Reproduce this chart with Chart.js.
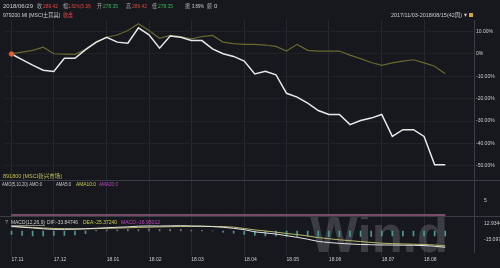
<!DOCTYPE html>
<html>
<head>
<meta charset="utf-8">
<script src="https://cdn.jsdelivr.net/npm/chart.js@4.4.1/dist/chart.umd.min.js"></script>
<style>
  html, body { margin: 0; padding: 0; background: #16181d; }
  #wrap { width: 500px; height: 268px; }
</style>
</head>
<body>
<div id="wrap"><canvas id="trend"></canvas></div>
<script>
// weekly closes, 2017/11/03 - 2018/08/15 (42 weeks)
const weeks = [
  '2017/11/03', '2017/11/10', '2017/11/17', '2017/11/24',
  '2017/12/01', '2017/12/08', '2017/12/15', '2017/12/22', '2017/12/29',
  '2018/01/05', '2018/01/12', '2018/01/19', '2018/01/26',
  '2018/02/02', '2018/02/09', '2018/02/16', '2018/02/23',
  '2018/03/02', '2018/03/09', '2018/03/16', '2018/03/23', '2018/03/30',
  '2018/04/06', '2018/04/13', '2018/04/20', '2018/04/27',
  '2018/05/04', '2018/05/11', '2018/05/18', '2018/05/25',
  '2018/06/01', '2018/06/08', '2018/06/15', '2018/06/22', '2018/06/29',
  '2018/07/06', '2018/07/13', '2018/07/20', '2018/07/27',
  '2018/08/03', '2018/08/10', '2018/08/15'
];

// % change since first week
const turkey = [
  0, -2.5, -5, -7.3, -7.8, -1.9, -1.9, 1.9, 5.3, 7.5,
  5.3, 4.8, 11.7, 8.6, 2.6, 8.0, 7.5, 6.0, 6.0, 2.3,
  0.1, -1.1, -3.2, -8.9, -7.7, -9.3, -17.6, -19.3, -22.0, -25.3,
  -27.1, -27.1, -31.6, -29.8, -28.7, -27.1, -36.9, -33.9, -33.9, -36.9,
  -49.6, -49.6
];
const emerging = [
  0, 0.8, 1.6, 3.0, 0.1, -0.1, -0.2, 2.0, 5.0, 7.5,
  8.5, 10.5, 13.5, 10.5, 7.0, 8.3, 7.8, 6.8, 7.8, 8.3,
  5.3, 4.6, 4.3, 4.3, 4.0, 3.4, 1.3, 4.3, 1.6, 1.3,
  1.3, 1.3, -0.5, -2.1, -3.8, -5.1, -4.0, -3.2, -2.6, -4.0,
  -5.5, -8.9
];

// AMO panel (all zero)
const ama = [
  0, 0, 0, 0, 0, 0, 0, 0, 0, 0, 0, 0, 0, 0, 0, 0, 0, 0, 0, 0, 0,
  0, 0, 0, 0, 0, 0, 0, 0, 0, 0, 0, 0, 0, 0, 0, 0, 0, 0, 0, 0, 0
];

// MACD panel
const dif = [
  8.5, 7, 5.5, 4, 3, 3, 3.3, 4, 5, 6,
  6.8, 7.5, 8.8, 9.2, 9.0, 9.4, 9.6, 9.2, 8.8, 8.0,
  6.8, 4.8, 2.5, -1.5, -3.5, -5.5, -8.5, -11.5, -15, -19,
  -21, -22.5, -23.6, -24.5, -25, -25.4, -25.6, -25.8, -26, -26.5,
  -27.8, -29.6
];
const dea = [
  8.0, 7.5, 6.5, 5.5, 4.6, 4.2, 4.0, 4.0, 4.3, 4.8,
  5.3, 5.8, 6.5, 7.0, 7.4, 7.8, 8.2, 8.4, 8.5, 8.4,
  8.0, 7.0, 4.5, 2.0, 0.0, -2.0, -4.5, -6.5, -9, -12,
  -14, -16, -17.6, -19.2, -20.8, -22.2, -23.0, -23.6, -24.0, -24.6,
  -25.5, -27.0
];
const macdHist = [
  -6, -8, -9, -9, -8, -8, -7, -5, 1, 2,
  2, 3, 3, 4, 3, 3, 3, 1, 1, 0.5,
  -2, -4, -6, -8, -9, -9, -10, -10, -10, -10,
  -10, -10, -10, -10, -10, -9, -9, -9, -9, -9,
  -9, -9
];

const pctTicks = [10, 0, -10, -20, -30, -40, -50];
const amoTicks = [5];
const macdTicks = [12.93449, -15.09714];

const FONT = '"Liberation Sans", "Noto Sans CJK SC", sans-serif';
const RED = '#e2463f';
const GREEN = '#39b85a';
const TXT = '#cdcdcd';
const GREY = '#a8a8a8';

// header / panel captions: [text, x, color, maxWidth]
const headRow1 = [
  ['2018/06/29', 3, TXT, 31], ['收', 37, GREY, 5], ['289.42', 43, RED, 15],
  ['幅', 63, GREY, 5], ['1.82%(5.18)', 68, RED, 23], ['开', 97, GREY, 5],
  ['278.35', 103, GREEN, 15], ['高', 126, GREY, 5], ['289.42', 132, RED, 15],
  ['低', 152, GREY, 5], ['278.35', 158, GREEN, 15], ['振', 185, GREY, 5],
  ['3.89%', 192, TXT, 12], ['额', 207, GREY, 5], ['0', 214, TXT, 4]
];
const headRow2 = [['979200.MI [MSCI土耳其]', 3, TXT, 57], ['收盘', 63, RED, 10]];
const rangeRow = [['2017/11/03-2018/08/15(42周)', 391, TXT, 71], ['▼', 463, TXT, 5]];
const emRow = [['891800 [MSCI新兴市场]', 3, '#c9bf4c', 59]];
const amoRow = [
  ['AMO(5,10,20) AMO:0', 2, TXT, 40], ['AMA5:0', 56, TXT, 15],
  ['AMA10:0', 76, '#d2d048', 20], ['AMA20:0', 99, '#c844c8', 19]
];
const macdRow = [
  ['?', 5, GREY, 4], ['MACD(12,26,9)', 11, TXT, 34], ['DIF:-33.84746', 47, TXT, 31],
  ['DEA:-25.37240', 83, '#d2d048', 34], ['MACD:-16.95012', 121, '#c844c8', 39]
];

const monthStarts = [];
weeks.forEach((d, i) => {
  if (i === 0 || d.slice(5, 7) !== weeks[i - 1].slice(5, 7)) monthStarts.push(i);
});
const monthLabel = i => weeks[i].slice(2, 4) + '.' + weeks[i].slice(5, 7);
const pts = arr => arr.map((v, i) => ({ x: i, y: v }));

function writeRow(ctx, row, y, size) {
  ctx.font = `${size}px ${FONT}`;
  ctx.textBaseline = 'middle';
  ctx.textAlign = 'left';
  row.forEach(([t, x, c, w]) => {
    ctx.fillStyle = c;
    ctx.fillText(t, x, y, w);
  });
}

const decor = {
  id: 'decor',
  beforeDatasetsDraw(chart) {
    const ctx = chart.ctx;
    ctx.save();
    ctx.font = `bold 52px ${FONT}`;
    ctx.fillStyle = 'rgba(125,127,137,0.36)';
    ctx.textBaseline = 'alphabetic';
    ctx.fillText('Win.d', 310, 252, 138);
    ctx.restore();
  },
  afterDraw(chart) {
    const ctx = chart.ctx;
    const s = chart.scales;
    ctx.save();
    // panel separators
    ctx.strokeStyle = '#3a3d45';
    ctx.lineWidth = 1;
    [s.yAmo.top, s.yMacd.top].forEach(y => {
      ctx.beginPath();
      ctx.moveTo(0, Math.round(y) + 0.5);
      ctx.lineTo(500, Math.round(y) + 0.5);
      ctx.stroke();
    });
    writeRow(ctx, headRow1, 6, 6);
    writeRow(ctx, headRow2, 15, 5.5);
    writeRow(ctx, rangeRow, 15, 5.5);
    ctx.fillStyle = '#d8a531';
    ctx.fillRect(469, 13, 4, 4);
    writeRow(ctx, emRow, 176, 5.5);
    writeRow(ctx, amoRow, 184, 5.5);
    writeRow(ctx, macdRow, 222, 5.5);
    // underline under MACD(12,26,9)
    ctx.strokeStyle = TXT;
    ctx.lineWidth = 0.6;
    ctx.beginPath();
    ctx.moveTo(11, 225.5);
    ctx.lineTo(45, 225.5);
    ctx.stroke();
    ctx.restore();
  }
};

const tickFont = { family: FONT, size: 5 };

new Chart(document.getElementById('trend'), {
  type: 'line',
  data: {
    datasets: [
      {
        data: pts(turkey), yAxisID: 'y', borderColor: '#e8e8e8', borderWidth: 1.5,
        pointRadius: ctx => ctx.dataIndex === 0 ? 2.5 : 0,
        pointBackgroundColor: '#e0603a', pointBorderColor: '#c84a2a', pointBorderWidth: 0.5
      },
      { data: pts(emerging), yAxisID: 'y', borderColor: '#69682f', borderWidth: 1.2, pointRadius: 0 },
      { data: pts(ama), yAxisID: 'yAmo', borderColor: '#7a3c7c', borderWidth: 1.5, pointRadius: 0 },
      { data: pts(ama), yAxisID: 'yAmo', borderColor: '#d2d048', borderWidth: 1, pointRadius: 0 },
      { data: pts(dif), yAxisID: 'yMacd', borderColor: '#e4e4e4', borderWidth: 1, pointRadius: 0 },
      { data: pts(dea), yAxisID: 'yMacd', borderColor: '#b8b86a', borderWidth: 1, pointRadius: 0 },
      {
        type: 'bar', data: pts(macdHist), yAxisID: 'yMacd', barThickness: 1,
        backgroundColor: ctx => (ctx.raw && ctx.raw.y < 0) ? '#4c9a98' : '#6f7178'
      }
    ]
  },
  options: {
    responsive: true,
    maintainAspectRatio: false,
    animation: false,
    layout: { padding: { top: 20, left: 1, right: 0, bottom: 0 } },
    plugins: { legend: { display: false }, tooltip: { enabled: false } },
    scales: {
      x: {
        type: 'linear', min: -0.66, max: 43.72, offset: false,
        afterBuildTicks: sc => { sc.ticks = monthStarts.map(v => ({ value: v })); },
        afterFit: sc => { sc.height = 16; },
        ticks: {
          autoSkip: false, maxRotation: 0, align: 'start', padding: 1,
          color: TXT, font: tickFont, callback: v => monthLabel(v)
        },
        grid: { color: '#25282f', offset: false, tickLength: 4 },
        border: { display: false }
      },
      y: {
        position: 'right', stack: 'panels', stackWeight: 160,
        min: -56.4, max: 15.2,
        afterBuildTicks: sc => { sc.ticks = pctTicks.map(v => ({ value: v })); },
        afterFit: sc => { sc.width = 26; },
        ticks: {
          color: TXT, font: tickFont, padding: 2,
          callback: v => v === 0 ? '0%' : v.toFixed(2) + '%'
        },
        grid: { color: '#1f2227', drawTicks: false },
        border: { color: '#3a3d45' }
      },
      yAmo: {
        position: 'right', stack: 'panels', stackWeight: 36,
        min: -0.36, max: 12.5,
        afterBuildTicks: sc => { sc.ticks = amoTicks.map(v => ({ value: v })); },
        afterFit: sc => { sc.width = 26; },
        ticks: { color: TXT, font: tickFont, padding: 2 },
        grid: { display: false },
        border: { color: '#3a3d45' }
      },
      yMacd: {
        position: 'right', stack: 'panels', stackWeight: 36,
        min: -38.2, max: 27.3,
        afterBuildTicks: sc => { sc.ticks = macdTicks.map(v => ({ value: v })); },
        afterFit: sc => { sc.width = 26; },
        ticks: { color: TXT, font: tickFont, padding: 2, callback: v => String(v) },
        grid: { display: false },
        border: { color: '#3a3d45' }
      }
    }
  },
  plugins: [decor]
});
</script>
</body>
</html>
